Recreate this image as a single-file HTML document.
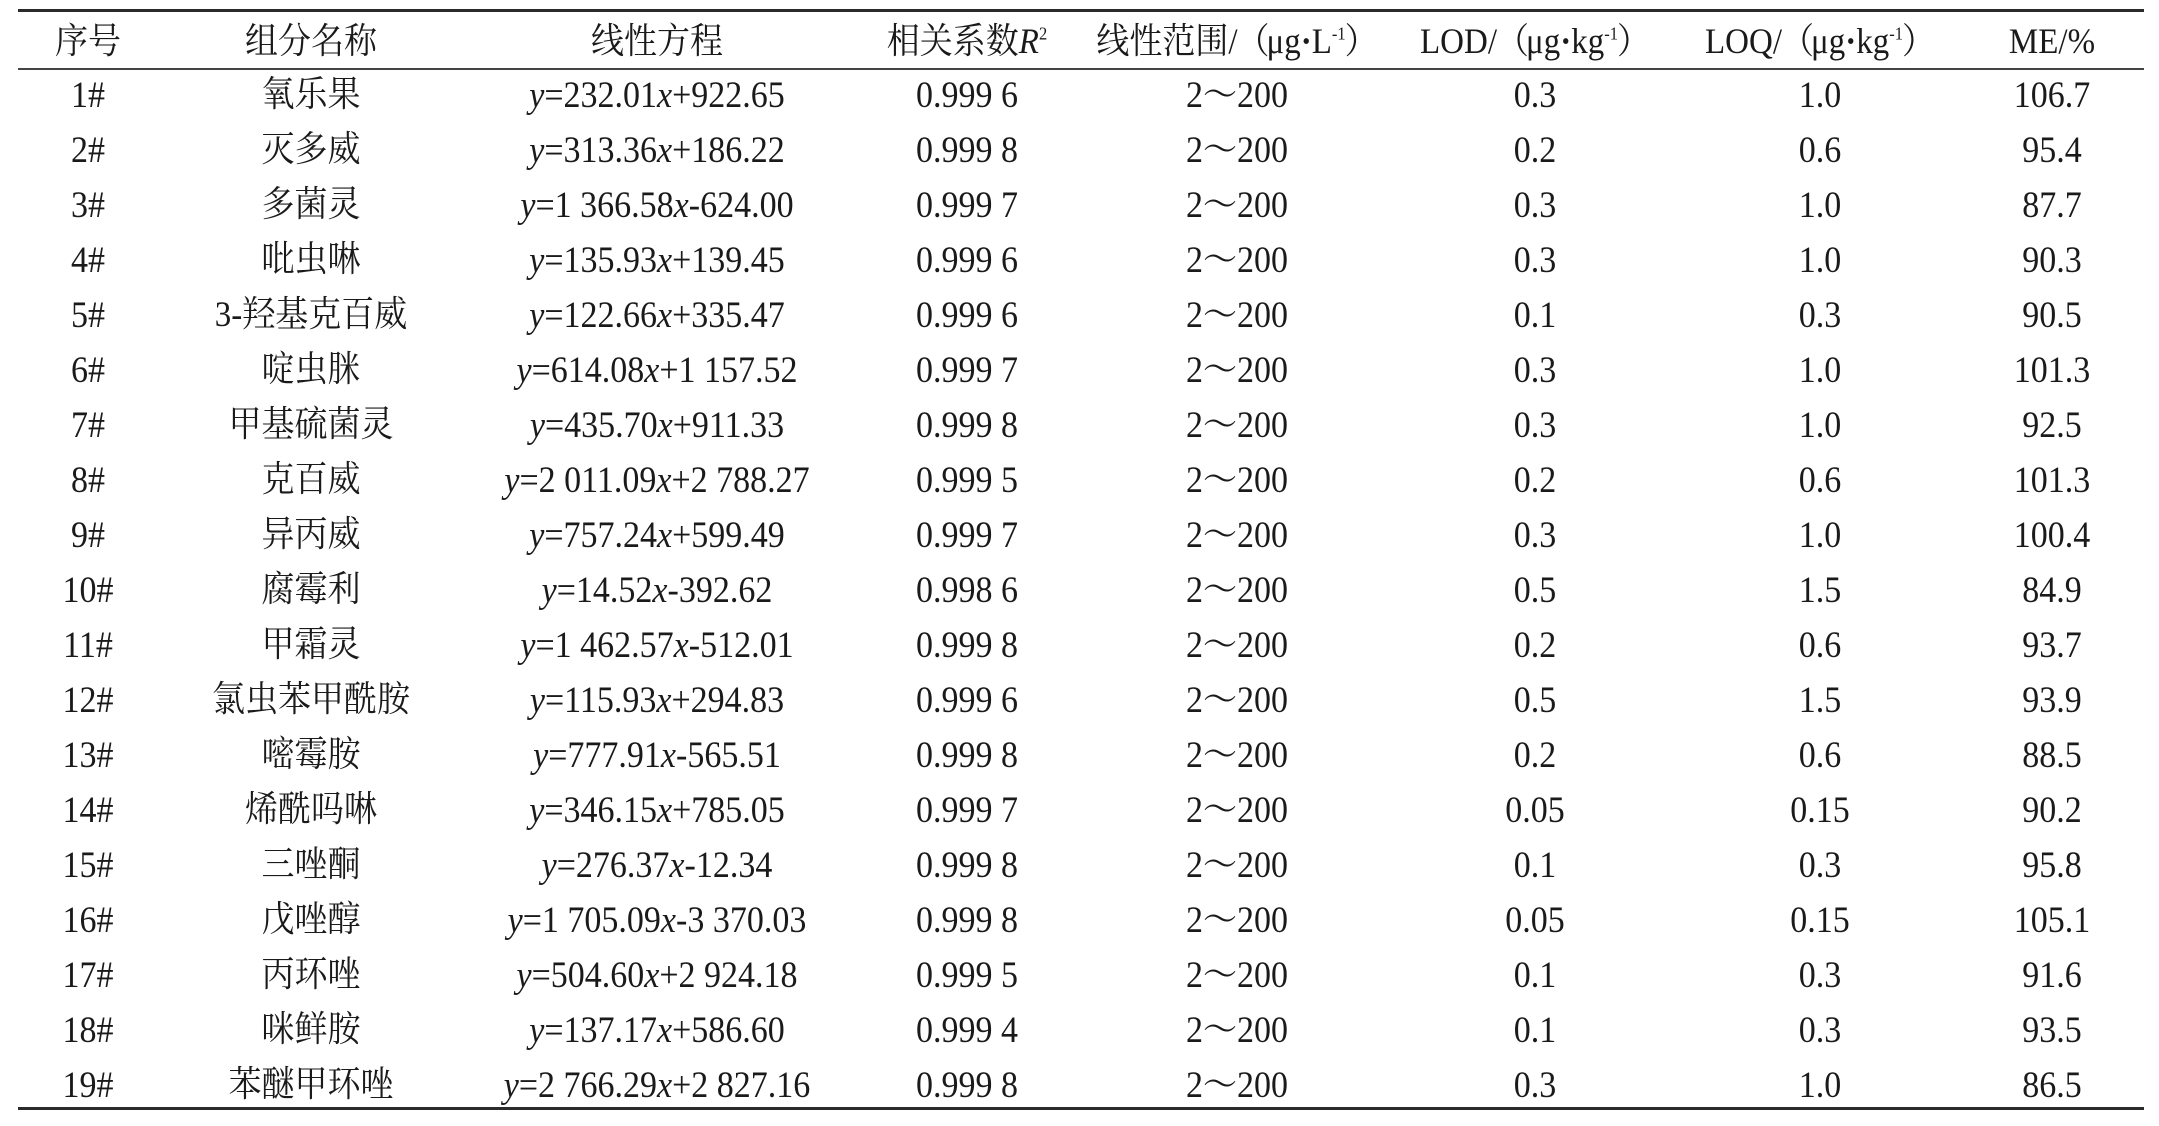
<!DOCTYPE html>
<html>
<head>
<meta charset="utf-8">
<style>
  html,body{margin:0;padding:0;background:#fff;}
  body{width:2159px;height:1126px;position:relative;overflow:hidden;
       font-family:"Liberation Serif","Noto Serif CJK SC",serif;color:#1a1a1a;}
  .ln{position:absolute;left:18px;width:2126px;background:#2b2b2b;}
  .r{position:absolute;left:0;width:2159px;height:55px;line-height:55px;font-size:34px;}
  .r span.c{position:absolute;top:0;width:420px;margin-left:-210px;text-align:center;white-space:nowrap;transform:scaleY(1.08);}
  .r span.c2{font-size:33px;}
  .h{font-size:33px;}
  .c1{left:88px}.c2{left:311px}.c3{left:657px}.c4{left:967px}
  .c5{left:1237px}.c6{left:1535px}.c7{left:1820px}.c8{left:2052px}
  i{font-style:italic;}
  sup{font-size:0.5em;vertical-align:0.75em;line-height:0;}
  .pl{letter-spacing:-3px;margin-left:-1px;}
  .pr{margin-left:-1px;}
  .d{font-weight:bold;}
</style>
</head>
<body>
<div class="ln" style="top:9px;height:3px;"></div>
<div class="ln" style="top:68px;height:2px;background:#444;"></div>
<div class="ln" style="top:1107px;height:3px;"></div>

<div class="r h" style="top:15px;">
  <span class="c c1">序号</span>
  <span class="c c2">组分名称</span>
  <span class="c c3">线性方程</span>
  <span class="c c4">相关系数<i>R</i><sup>2</sup></span>
  <span class="c c5">线性范围/<span class="pl">（</span>μg<span class="d">·</span>L<sup>-1</sup><span class="pr">）</span></span>
  <span class="c c6">LOD/<span class="pl">（</span>μg<span class="d">·</span>kg<sup>-1</sup><span class="pr">）</span></span>
  <span class="c c7">LOQ/<span class="pl">（</span>μg<span class="d">·</span>kg<sup>-1</sup><span class="pr">）</span></span>
  <span class="c c8">ME/%</span>
</div>

<div class="r" style="top:68px;"><span class="c c1">1#</span><span class="c c2">氧乐果</span><span class="c c3"><i>y</i>=232.01<i>x</i>+922.65</span><span class="c c4">0.999 6</span><span class="c c5">2～200</span><span class="c c6">0.3</span><span class="c c7">1.0</span><span class="c c8">106.7</span></div>
<div class="r" style="top:123px;"><span class="c c1">2#</span><span class="c c2">灭多威</span><span class="c c3"><i>y</i>=313.36<i>x</i>+186.22</span><span class="c c4">0.999 8</span><span class="c c5">2～200</span><span class="c c6">0.2</span><span class="c c7">0.6</span><span class="c c8">95.4</span></div>
<div class="r" style="top:178px;"><span class="c c1">3#</span><span class="c c2">多菌灵</span><span class="c c3"><i>y</i>=1 366.58<i>x</i>-624.00</span><span class="c c4">0.999 7</span><span class="c c5">2～200</span><span class="c c6">0.3</span><span class="c c7">1.0</span><span class="c c8">87.7</span></div>
<div class="r" style="top:233px;"><span class="c c1">4#</span><span class="c c2">吡虫啉</span><span class="c c3"><i>y</i>=135.93<i>x</i>+139.45</span><span class="c c4">0.999 6</span><span class="c c5">2～200</span><span class="c c6">0.3</span><span class="c c7">1.0</span><span class="c c8">90.3</span></div>
<div class="r" style="top:288px;"><span class="c c1">5#</span><span class="c c2">3-羟基克百威</span><span class="c c3"><i>y</i>=122.66<i>x</i>+335.47</span><span class="c c4">0.999 6</span><span class="c c5">2～200</span><span class="c c6">0.1</span><span class="c c7">0.3</span><span class="c c8">90.5</span></div>
<div class="r" style="top:343px;"><span class="c c1">6#</span><span class="c c2">啶虫脒</span><span class="c c3"><i>y</i>=614.08<i>x</i>+1 157.52</span><span class="c c4">0.999 7</span><span class="c c5">2～200</span><span class="c c6">0.3</span><span class="c c7">1.0</span><span class="c c8">101.3</span></div>
<div class="r" style="top:398px;"><span class="c c1">7#</span><span class="c c2">甲基硫菌灵</span><span class="c c3"><i>y</i>=435.70<i>x</i>+911.33</span><span class="c c4">0.999 8</span><span class="c c5">2～200</span><span class="c c6">0.3</span><span class="c c7">1.0</span><span class="c c8">92.5</span></div>
<div class="r" style="top:453px;"><span class="c c1">8#</span><span class="c c2">克百威</span><span class="c c3"><i>y</i>=2 011.09<i>x</i>+2 788.27</span><span class="c c4">0.999 5</span><span class="c c5">2～200</span><span class="c c6">0.2</span><span class="c c7">0.6</span><span class="c c8">101.3</span></div>
<div class="r" style="top:508px;"><span class="c c1">9#</span><span class="c c2">异丙威</span><span class="c c3"><i>y</i>=757.24<i>x</i>+599.49</span><span class="c c4">0.999 7</span><span class="c c5">2～200</span><span class="c c6">0.3</span><span class="c c7">1.0</span><span class="c c8">100.4</span></div>
<div class="r" style="top:563px;"><span class="c c1">10#</span><span class="c c2">腐霉利</span><span class="c c3"><i>y</i>=14.52<i>x</i>-392.62</span><span class="c c4">0.998 6</span><span class="c c5">2～200</span><span class="c c6">0.5</span><span class="c c7">1.5</span><span class="c c8">84.9</span></div>
<div class="r" style="top:618px;"><span class="c c1">11#</span><span class="c c2">甲霜灵</span><span class="c c3"><i>y</i>=1 462.57<i>x</i>-512.01</span><span class="c c4">0.999 8</span><span class="c c5">2～200</span><span class="c c6">0.2</span><span class="c c7">0.6</span><span class="c c8">93.7</span></div>
<div class="r" style="top:673px;"><span class="c c1">12#</span><span class="c c2">氯虫苯甲酰胺</span><span class="c c3"><i>y</i>=115.93<i>x</i>+294.83</span><span class="c c4">0.999 6</span><span class="c c5">2～200</span><span class="c c6">0.5</span><span class="c c7">1.5</span><span class="c c8">93.9</span></div>
<div class="r" style="top:728px;"><span class="c c1">13#</span><span class="c c2">嘧霉胺</span><span class="c c3"><i>y</i>=777.91<i>x</i>-565.51</span><span class="c c4">0.999 8</span><span class="c c5">2～200</span><span class="c c6">0.2</span><span class="c c7">0.6</span><span class="c c8">88.5</span></div>
<div class="r" style="top:783px;"><span class="c c1">14#</span><span class="c c2">烯酰吗啉</span><span class="c c3"><i>y</i>=346.15<i>x</i>+785.05</span><span class="c c4">0.999 7</span><span class="c c5">2～200</span><span class="c c6">0.05</span><span class="c c7">0.15</span><span class="c c8">90.2</span></div>
<div class="r" style="top:838px;"><span class="c c1">15#</span><span class="c c2">三唑酮</span><span class="c c3"><i>y</i>=276.37<i>x</i>-12.34</span><span class="c c4">0.999 8</span><span class="c c5">2～200</span><span class="c c6">0.1</span><span class="c c7">0.3</span><span class="c c8">95.8</span></div>
<div class="r" style="top:893px;"><span class="c c1">16#</span><span class="c c2">戊唑醇</span><span class="c c3"><i>y</i>=1 705.09<i>x</i>-3 370.03</span><span class="c c4">0.999 8</span><span class="c c5">2～200</span><span class="c c6">0.05</span><span class="c c7">0.15</span><span class="c c8">105.1</span></div>
<div class="r" style="top:948px;"><span class="c c1">17#</span><span class="c c2">丙环唑</span><span class="c c3"><i>y</i>=504.60<i>x</i>+2 924.18</span><span class="c c4">0.999 5</span><span class="c c5">2～200</span><span class="c c6">0.1</span><span class="c c7">0.3</span><span class="c c8">91.6</span></div>
<div class="r" style="top:1003px;"><span class="c c1">18#</span><span class="c c2">咪鲜胺</span><span class="c c3"><i>y</i>=137.17<i>x</i>+586.60</span><span class="c c4">0.999 4</span><span class="c c5">2～200</span><span class="c c6">0.1</span><span class="c c7">0.3</span><span class="c c8">93.5</span></div>
<div class="r" style="top:1058px;"><span class="c c1">19#</span><span class="c c2">苯醚甲环唑</span><span class="c c3"><i>y</i>=2 766.29<i>x</i>+2 827.16</span><span class="c c4">0.999 8</span><span class="c c5">2～200</span><span class="c c6">0.3</span><span class="c c7">1.0</span><span class="c c8">86.5</span></div>
</body>
</html>
